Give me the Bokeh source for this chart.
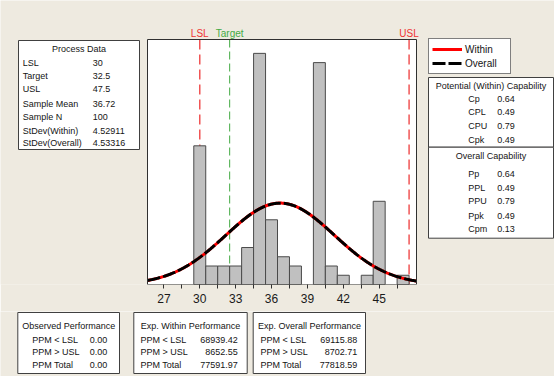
import numpy as np
from bokeh.plotting import figure
from bokeh.models import Range1d, FixedTicker, Legend, LegendItem
from bokeh.layouts import column
from bokeh.core.properties import value
from bokeh.embed import file_html
from bokeh.resources import INLINE

# ---------------- data ----------------
bin_centers = [30, 31, 32, 33, 34, 35, 36, 37, 38, 40, 41, 42, 44, 45, 47]
bin_counts = [15, 2, 2, 2, 4, 25, 7, 3, 2, 24, 2, 1, 1, 9, 1]
bin_width = 1.0
LSL, TARGET, USL = 30, 32.5, 47.5
sample_mean = 36.72
sample_n = 100
sd_within = 4.52911
sd_overall = 4.53316
tick_values = [27, 30, 33, 36, 39, 42, 45]
minor_tick_values = [28.5, 31.5, 34.5, 37.5, 40.5, 43.5, 46.5]

process_labels = ["LSL", "Target", "USL", "Sample Mean", "Sample N", "StDev(Within)", "StDev(Overall)"]
process_values = ["30", "32.5", "47.5", "36.72", "100", "4.52911", "4.53316"]
within_cap_labels = ["Cp", "CPL", "CPU", "Cpk"]
within_cap_values = ["0.64", "0.49", "0.79", "0.49"]
overall_cap_labels = ["Pp", "PPL", "PPU", "Ppk", "Cpm"]
overall_cap_values = ["0.64", "0.49", "0.79", "0.49", "0.13"]
perf_titles = ["Observed Performance", "Exp. Within Performance", "Exp. Overall Performance"]
perf_labels = ["PPM < LSL", "PPM > USL", "PPM Total"]
perf_values = [["0.00", "0.00", "0.00"],
               ["68939.42", "8652.55", "77591.97"],
               ["69115.88", "8702.71", "77818.59"]]

# ---------------- layout / styling ----------------
W, H = 554, 376
TOP_H = 311                 # height of upper figure (frame + axis panel)
AX_H = 27                   # axis panel height
FRAME_H = TOP_H - AX_H      # 284
BG = "#EEEAE0"
FONT = "Liberation Sans"
TXT = "#141414"
BORDER = "#404040"
FS = "9px"

# plot area inside the frame (pixels) and the data window it shows
PL, PR, PT, PB = 147, 416, 39, FRAME_H
XMIN, XMAX, YMAX = 25.63, 48.12, 26.5
xs_scale = (PR - PL) / (XMAX - XMIN)
ys_scale = (PB - PT) / YMAX

p = figure(width=W, height=TOP_H,
           x_range=Range1d(XMIN - PL / xs_scale, XMIN + (W - PL) / xs_scale),
           y_range=Range1d(0, FRAME_H / ys_scale),
           output_backend="svg", toolbar_location=None, title=None,
           y_axis_location=None,
           min_border_left=0, min_border_right=0, min_border_top=0, min_border_bottom=AX_H,
           background_fill_color=BG, border_fill_color=BG, outline_line_color=None)
p.extra_x_ranges = {"px": Range1d(0, W)}
p.extra_y_ranges = {"px": Range1d(FRAME_H, 0)}
p.xgrid.visible = False
p.ygrid.visible = False

ax = p.xaxis[0]
ax.ticker = FixedTicker(ticks=tick_values, minor_ticks=minor_tick_values)
ax.axis_line_color = None
ax.major_tick_line_color = "#303030"
ax.minor_tick_line_color = "#303030"
ax.major_tick_in = 0
ax.major_tick_out = 4
ax.minor_tick_in = 0
ax.minor_tick_out = 4
ax.major_label_text_font = FONT
ax.major_label_text_font_size = "12px"
ax.major_label_text_color = "#1a1a1a"
ax.major_label_standoff = 5

PX = dict(x_range_name="px", y_range_name="px")

# plot area background
p.quad(left=[PL], right=[PR], top=[PT], bottom=[PB], fill_color="white", line_color=None, **PX)

# spec lines (beneath the bars)
for val, col, dash, w in [(LSL, "#F05555", "10 5", 1.5), (TARGET, "#44AA44", "8 4", 1), (USL, "#F05555", "10 5", 1.5)]:
    p.segment(x0=[val], x1=[val], y0=[PT], y1=[PB], line_color=col, line_dash=dash,
              line_width=w, y_range_name="px")

# histogram
left = [c - bin_width / 2 for c in bin_centers]
right = [c + bin_width / 2 for c in bin_centers]
p.quad(left=left, right=right, bottom=0, top=bin_counts,
       fill_color="#C0C0C0", line_color="#4a4a4a", line_width=1)

# fitted normal curves
xs = np.linspace(XMIN, XMAX, 400)
def normal_counts(x, mu, sd):
    return sample_n * bin_width * np.exp(-0.5 * ((x - mu) / sd) ** 2) / (sd * np.sqrt(2 * np.pi))
r_within = p.line(xs, normal_counts(xs, sample_mean, sd_within), line_color="#FF0000", line_width=3)
r_overall = p.line(xs, normal_counts(xs, sample_mean, sd_overall), line_color="black",
                   line_width=3, line_dash="13 3")

# plot area outline on top
p.quad(left=[PL], right=[PR], top=[PT], bottom=[PB], fill_alpha=0, line_color="#303030", line_width=1, **PX)

# spec labels above plot area
p.text(x=[LSL, TARGET, USL], y=[32.5, 32.5, 32.5], text=["LSL", "Target", "USL"],
       text_color=["#EE3333", "#44AA44", "#EE3333"], text_align="center", text_baseline="middle",
       text_font=value(FONT), text_font_size="10px", y_range_name="px")

# legend
legend = Legend(items=[LegendItem(label="Within", renderers=[r_within]),
                       LegendItem(label="Overall", renderers=[r_overall])],
                location=(428, FRAME_H - 74), orientation="vertical",
                border_line_color="black", border_line_width=1,
                background_fill_color="white", background_fill_alpha=1,
                label_text_font=FONT, label_text_font_size="10px", label_text_color=TXT,
                glyph_width=30, glyph_height=14, label_height=14, label_width=42,
                label_standoff=3, padding=3, spacing=0, margin=0)
p.add_layout(legend, "center")


def box(fig, l, r, t, b):
    fig.quad(left=[l], right=[r], top=[t], bottom=[b], fill_color="white",
             line_color=BORDER, line_width=1, **PX)


def texts(fig, xs_, ys_, strs, align="left"):
    fig.text(x=xs_, y=ys_, text=strs, text_align=align, text_baseline="middle",
             text_color=TXT, text_font=value(FONT), text_font_size=FS, **PX)


# Process Data box
box(p, 18, 139, 40, 149)
texts(p, [78.5], [48.3], ["Process Data"], "center")
proc_y = [62.3, 75.7, 88.7, 103.0, 116.5, 130.0, 142.7]
texts(p, [22.3] * 7, proc_y, process_labels)
texts(p, [92.3] * 7, proc_y, process_values)

# Capability box
box(p, 428, 553, 77, 146.7)
box(p, 428, 553, 146.7, 237.7)
texts(p, [490.5], [85], ["Potential (Within) Capability"], "center")
wy = [98.3, 111.7, 125.0, 139.3]
texts(p, [467.7] * 4, wy, within_cap_labels)
texts(p, [496.7] * 4, wy, within_cap_values)
texts(p, [490.5], [155.7], ["Overall Capability"], "center")
oy = [173.3, 187.3, 200.0, 215.0, 228.3]
texts(p, [467.7] * 5, oy, overall_cap_labels)
texts(p, [496.7] * 5, oy, overall_cap_values)

# ---------------- lower strip with performance boxes ----------------
q = figure(width=W, height=H - TOP_H, x_range=Range1d(0, W), y_range=Range1d(H, TOP_H),
           output_backend="svg", toolbar_location=None, title=None,
           x_axis_location=None, y_axis_location=None,
           min_border_left=0, min_border_right=0, min_border_top=0, min_border_bottom=0,
           background_fill_color=BG, border_fill_color=BG, outline_line_color=None)
q.extra_x_ranges = {"px": Range1d(0, W)}
q.extra_y_ranges = {"px": Range1d(H, TOP_H)}
q.xgrid.visible = False
q.ygrid.visible = False

perf_boxes = [(17.3, 119.0, 68.2, 31.7, 106.7),
              (133.3, 246.7, 190.0, 140.0, 237.3),
              (252.7, 365.0, 308.9, 260.0, 356.7)]
for (bl, br, tc, lx, vx), title, vals in zip(perf_boxes, perf_titles, perf_values):
    box(q, bl, br, 312, 373)
    texts(q, [tc], [325], [title], "center")
    ry = [339.3, 351.7, 364.0]
    texts(q, [lx] * 3, ry, perf_labels)
    texts(q, [vx] * 3, ry, vals, "right")

layout = column(p, q, spacing=0)
open("out.html", "w").write(file_html(layout, INLINE))
